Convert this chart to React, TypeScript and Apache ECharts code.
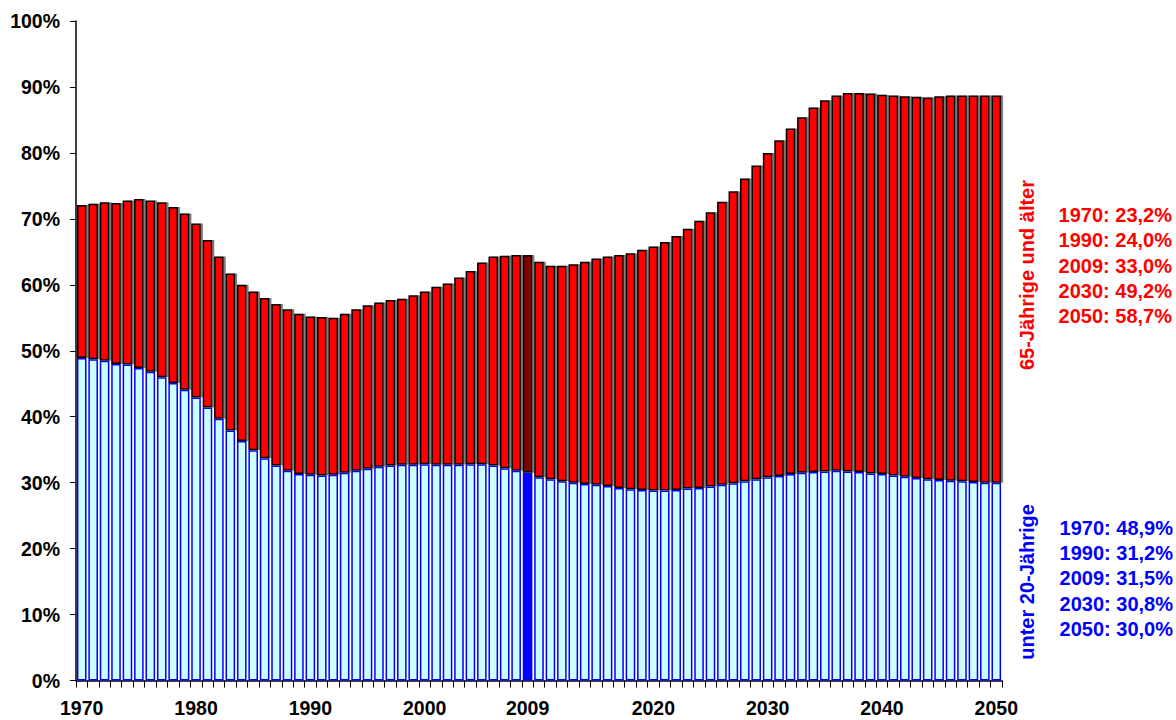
import React, { useEffect, useRef } from "react";
import * as echarts from "echarts";

const years: string[] = [];
for (let y = 1970; y <= 2050; y++) years.push(String(y));

const shownYears = ["1970", "1980", "1990", "2000", "2009", "2020", "2030", "2040", "2050"];

const under20 = [
  48.9, 48.7, 48.5, 48.0, 47.9, 47.4, 46.8, 46.0, 45.1, 44.1,
  42.9, 41.4, 39.7, 37.9, 36.3, 34.9, 33.7, 32.6, 31.8, 31.3,
  31.2, 31.1, 31.2, 31.5, 31.8, 32.1, 32.4, 32.6, 32.7, 32.7,
  32.8, 32.7, 32.7, 32.7, 32.8, 32.8, 32.6, 32.2, 31.8, 31.5,
  30.8, 30.5, 30.2, 30.0, 29.8, 29.7, 29.5, 29.2, 29.0, 28.9,
  28.8, 28.8, 28.9, 29.1, 29.2, 29.4, 29.7, 29.9, 30.2, 30.5,
  30.8, 31.0, 31.3, 31.5, 31.6, 31.7, 31.8, 31.7, 31.6, 31.4,
  31.3, 31.1, 30.9, 30.7, 30.5, 30.4, 30.3, 30.2, 30.1, 30.0,
  30.0,
];

const over65 = [
  23.2, 23.6, 24.0, 24.4, 24.9, 25.6, 26.0, 26.5, 26.7, 26.7,
  26.4, 25.4, 24.6, 23.8, 23.7, 24.1, 24.3, 24.5, 24.5, 24.3,
  24.0, 24.0, 23.8, 24.1, 24.5, 24.8, 24.9, 25.1, 25.2, 25.7,
  26.2, 27.0, 27.5, 28.4, 29.3, 30.6, 31.7, 32.2, 32.7, 33.0,
  32.7, 32.4, 32.7, 33.1, 33.7, 34.3, 34.8, 35.3, 35.8, 36.4,
  37.0, 37.7, 38.5, 39.4, 40.5, 41.6, 42.9, 44.3, 45.9, 47.6,
  49.2, 50.9, 52.4, 53.9, 55.3, 56.3, 56.9, 57.4, 57.5, 57.6,
  57.5, 57.6, 57.7, 57.8, 57.9, 58.2, 58.4, 58.5, 58.6, 58.7,
  58.7,
];

const yTicks = [0, 10, 20, 30, 40, 50, 60, 70, 80, 90, 100];

const highlightYear = "2009";

const over65Label = "65-Jährige und älter";
const under20Label = "unter 20-Jährige";
const over65Notes = ["1970: 23,2%", "1990: 24,0%", "2009: 33,0%", "2030: 49,2%", "2050: 58,7%"];
const under20Notes = ["1970: 48,9%", "1990: 31,2%", "2009: 31,5%", "2030: 30,8%", "2050: 30,0%"];

const FONT = '"Liberation Sans", Arial, Helvetica, sans-serif';

export default function App() {
  const ref = useRef<HTMLDivElement>(null);

  useEffect(() => {
    if (!ref.current) return;
    const chart = echarts.init(ref.current, undefined, { renderer: "svg" });

    const blueData = under20.map((v, i) =>
      years[i] === highlightYear
        ? { value: v, itemStyle: { color: "#0000FF" } }
        : v
    );
    const redData = over65.map((v, i) =>
      years[i] === highlightYear
        ? { value: v, itemStyle: { color: "#800000" } }
        : v
    );

    const graphics: any[] = [
      {
        type: "text",
        x: 1027,
        y: 275,
        rotation: Math.PI / 2,
        style: {
          text: over65Label,
          fill: "#FF0000",
          font: `bold 20px ${FONT}`,
          textAlign: "center",
          textVerticalAlign: "middle",
        },
      },
      {
        type: "text",
        x: 1027,
        y: 582,
        rotation: Math.PI / 2,
        style: {
          text: under20Label,
          fill: "#0000FF",
          font: `bold 20px ${FONT}`,
          textAlign: "center",
          textVerticalAlign: "middle",
        },
      },
    ];
    over65Notes.forEach((t, i) => {
      graphics.push({
        type: "text",
        x: 1172,
        y: 215 + i * 25.3,
        style: {
          text: t,
          fill: "#FF0000",
          font: `bold 20px ${FONT}`,
          textAlign: "right",
          textVerticalAlign: "middle",
        },
      });
    });
    under20Notes.forEach((t, i) => {
      graphics.push({
        type: "text",
        x: 1173,
        y: 528 + i * 25.2,
        style: {
          text: t,
          fill: "#0000FF",
          font: `bold 20px ${FONT}`,
          textAlign: "right",
          textVerticalAlign: "middle",
        },
      });
    });

    chart.setOption({
      animation: false,
      backgroundColor: "#FFFFFF",
      grid: { left: 76, right: 174, top: 21, bottom: 39.5, containLabel: false },
      xAxis: {
        type: "category",
        data: years,
        boundaryGap: true,
        axisLine: { lineStyle: { color: "#000000", width: 1.5 } },
        axisTick: {
          show: true,
          interval: 0,
          length: 7,
          lineStyle: { color: "#000000", width: 1 },
        },
        axisLabel: {
          interval: (index: number, value: string) => shownYears.includes(value),
          color: "#000000",
          fontFamily: FONT,
          fontWeight: "bold",
          fontSize: 19.5,
          margin: 17,
        },
        splitLine: { show: false },
      },
      yAxis: {
        type: "value",
        min: yTicks[0],
        max: yTicks[yTicks.length - 1],
        interval: 10,
        axisLine: { show: true, lineStyle: { color: "#000000", width: 1.5 } },
        axisTick: { show: true, length: 6, lineStyle: { color: "#000000", width: 1 } },
        axisLabel: {
          formatter: "{value}%",
          color: "#000000",
          fontFamily: FONT,
          fontWeight: "bold",
          fontSize: 19.5,
          margin: 16,
        },
        splitLine: { show: false },
      },
      series: [
        {
          name: under20Label,
          type: "bar",
          stack: "total",
          data: blueData,
          barCategoryGap: "16%",
          itemStyle: {
            color: "#CCFFFF",
            borderColor: "#0000FF",
            borderWidth: 1.5,
          },
        },
        {
          name: over65Label,
          type: "bar",
          stack: "total",
          data: redData,
          barCategoryGap: "16%",
          itemStyle: {
            color: "#FF0000",
            borderColor: "#000000",
            borderWidth: 1.5,
            shadowColor: "rgba(110,110,110,0.9)",
            shadowOffsetX: 2,
            shadowOffsetY: 0,
            shadowBlur: 0,
          },
        },
      ],
      graphic: graphics,
    });

    return () => {
      chart.dispose();
    };
  }, []);

  return (
    <div
      ref={ref}
      style={{ position: "absolute", left: 0, top: 0, width: 1176, height: 720 }}
    />
  );
}
